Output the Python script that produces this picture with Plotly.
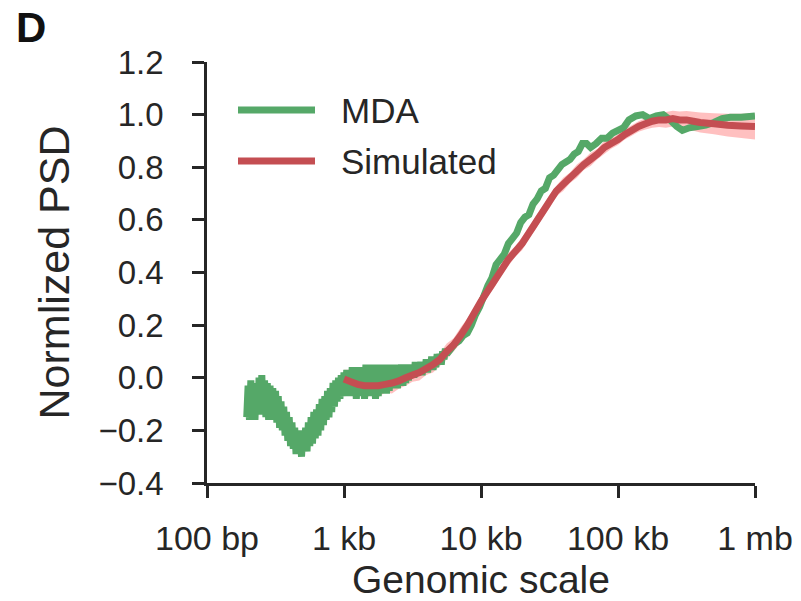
import numpy as np
import plotly.graph_objects as go

# ---------------- data ----------------
# MDA (green): log10 genomic scale (bp) and normalized PSD
mda_log10_bp = [
    2.29, 2.30, 2.31, 2.32, 2.33, 2.34, 2.35, 2.36, 2.37, 2.38, 2.39, 2.40, 2.41, 2.42,
    2.43, 2.44, 2.45, 2.46, 2.47, 2.48, 2.49, 2.50, 2.51, 2.52, 2.53, 2.54, 2.55, 2.56,
    2.57, 2.58, 2.59, 2.60, 2.61, 2.62, 2.63, 2.64, 2.65, 2.66, 2.67, 2.68, 2.69, 2.70,
    2.71, 2.72, 2.73, 2.74, 2.75, 2.76, 2.77, 2.78, 2.79, 2.80, 2.81, 2.82, 2.83, 2.84,
    2.85, 2.86, 2.87, 2.88, 2.89, 2.90, 2.91, 2.92, 2.93, 2.94, 2.95, 2.96, 2.97, 2.98,
    2.99, 3.00, 3.01, 3.02, 3.03, 3.04, 3.05, 3.06, 3.07, 3.08, 3.09, 3.10, 3.11, 3.12,
    3.13, 3.14, 3.15, 3.16, 3.17, 3.18, 3.19, 3.20, 3.21, 3.22, 3.23, 3.24, 3.25, 3.26,
    3.27, 3.28, 3.29, 3.30, 3.31, 3.32, 3.33, 3.34, 3.35, 3.36, 3.37, 3.38, 3.39, 3.40,
    3.41, 3.42, 3.43, 3.44, 3.45, 3.46, 3.47, 3.48, 3.49, 3.50, 3.51, 3.52, 3.53, 3.54,
    3.55, 3.56, 3.57, 3.58, 3.59, 3.60, 3.61, 3.62, 3.63, 3.64, 3.65, 3.66, 3.67, 3.68,
    3.69, 3.70, 3.71, 3.72, 3.73, 3.74, 3.75,
    3.78, 3.81, 3.84, 3.87, 3.90, 3.93, 3.96, 3.99, 4.02, 4.05, 4.08, 4.11, 4.14, 4.17,
    4.20, 4.23, 4.26, 4.29, 4.32, 4.35, 4.38, 4.41, 4.44, 4.47, 4.50, 4.53, 4.56, 4.59,
    4.62, 4.65, 4.68, 4.71, 4.74, 4.77, 4.80, 4.84, 4.88, 4.92, 4.96, 5.00, 5.04, 5.08,
    5.13, 5.18, 5.23, 5.28, 5.33, 5.38, 5.43, 5.47, 5.52, 5.58, 5.64, 5.70, 5.76, 5.82,
    5.90, 6.00,
]
mda_psd = [
    -0.15, -0.03, -0.16, -0.01, -0.15, -0.03, -0.16, -0.02, -0.14, 0.00, -0.13, 0.01, -0.14, -0.01,
    -0.15, -0.02, -0.16, -0.03, -0.15, -0.04, -0.16, -0.05, -0.17, -0.07, -0.19, -0.09, -0.20, -0.11,
    -0.22, -0.13, -0.24, -0.15, -0.26, -0.17, -0.27, -0.19, -0.29, -0.20, -0.29, -0.21, -0.30, -0.20,
    -0.28, -0.19, -0.28, -0.17, -0.26, -0.15, -0.25, -0.13, -0.23, -0.12, -0.22, -0.10, -0.20, -0.08,
    -0.18, -0.07, -0.16, -0.05, -0.15, -0.04, -0.13, -0.02, -0.11, -0.01, -0.09, 0.00, -0.08, 0.01,
    -0.07, 0.02, -0.07, 0.03, -0.06, 0.03, -0.07, 0.04, -0.06, 0.03, -0.08, 0.04, -0.06, 0.04,
    -0.07, 0.03, -0.08, 0.05, -0.06, 0.04, -0.07, 0.05, -0.06, 0.04, -0.08, 0.05, -0.07, 0.04,
    -0.06, 0.05, -0.05, 0.04, -0.06, 0.05, -0.05, 0.04, -0.04, 0.05, -0.04, 0.04, -0.04, 0.05,
    -0.03, 0.05, -0.03, 0.04, -0.02, 0.05, -0.01, 0.05, 0.00, 0.05, 0.00, 0.06, 0.01, 0.05,
    0.01, 0.06, 0.01, 0.06, 0.02, 0.07, 0.02, 0.07, 0.03, 0.08, 0.03, 0.08, 0.04, 0.09,
    0.05, 0.09, 0.05, 0.10, 0.07, 0.11, 0.09,
    0.11, 0.13, 0.14, 0.16, 0.17, 0.20, 0.24, 0.27, 0.31, 0.35, 0.38, 0.43, 0.45, 0.47,
    0.51, 0.53, 0.55, 0.59, 0.61, 0.62, 0.66, 0.68, 0.71, 0.72, 0.76, 0.77, 0.79, 0.81,
    0.82, 0.83, 0.85, 0.86, 0.89, 0.89, 0.875, 0.89, 0.91, 0.91, 0.93, 0.94, 0.95, 0.98,
    0.995, 1.00, 0.985, 0.995, 1.00, 0.98, 0.955, 0.94, 0.95, 0.955, 0.96, 0.97, 0.985, 0.99,
    0.99, 0.995,
]

# Simulated (red): mean and half-width of the shaded band
sim_log10_bp = [
    3.00, 3.05, 3.10, 3.15, 3.20, 3.25, 3.30, 3.35, 3.40, 3.45, 3.50, 3.55, 3.60, 3.65,
    3.70, 3.75, 3.80, 3.85, 3.90, 3.95, 4.00, 4.05, 4.10, 4.15, 4.20, 4.25, 4.30, 4.35,
    4.40, 4.45, 4.50, 4.55, 4.60, 4.65, 4.70, 4.75, 4.80, 4.85, 4.90, 4.95, 5.00, 5.05,
    5.10, 5.15, 5.20, 5.25, 5.30, 5.35, 5.40, 5.45, 5.50, 5.55, 5.60, 5.70, 5.80, 5.90,
    6.00,
]
sim_psd = [
    -0.005, -0.015, -0.025, -0.03, -0.03, -0.03, -0.025, -0.02, -0.012, 0.0, 0.01, 0.02, 0.035, 0.05,
    0.07, 0.10, 0.125, 0.16, 0.20, 0.245, 0.29, 0.33, 0.37, 0.41, 0.45, 0.48, 0.51, 0.55,
    0.59, 0.63, 0.67, 0.71, 0.735, 0.76, 0.785, 0.81, 0.83, 0.85, 0.875, 0.89, 0.905, 0.925,
    0.94, 0.955, 0.965, 0.975, 0.98, 0.98, 0.985, 0.98, 0.98, 0.975, 0.97, 0.965, 0.96, 0.957,
    0.955,
]
sim_halfwidth = [
    0.035, 0.045, 0.03, 0.05, 0.035, 0.045, 0.03, 0.04, 0.03,
    0.03, 0.025, 0.03, 0.025, 0.03, 0.025, 0.03, 0.025, 0.03, 0.025, 0.02, 0.025,
    0.02, 0.025, 0.02, 0.025, 0.02, 0.025, 0.02, 0.025, 0.02, 0.025, 0.02, 0.025, 0.02, 0.025,
    0.02, 0.025, 0.02, 0.025, 0.02,
    0.02, 0.02, 0.02, 0.02, 0.022, 0.025, 0.027, 0.03, 0.03, 0.032, 0.034, 0.036, 0.038,
    0.04, 0.043, 0.046, 0.05,
]

tick_values_bp = [100, 1000, 10000, 100000, 1000000]
tick_labels = ["100 bp", "1 kb", "10 kb", "100 kb", "1 mb"]
y_ticks = [-0.4, -0.2, 0.0, 0.2, 0.4, 0.6, 0.8, 1.0, 1.2]
y_tick_labels = ["\u22120.4", "\u22120.2", "0.0", "0.2", "0.4", "0.6", "0.8", "1.0", "1.2"]

# ---------------- styling ----------------
GREEN = "#55A868"
RED = "#C44E52"
BAND = "rgba(255,150,150,0.6)"
INK = "#262626"
FONT = "Liberation Sans"

mda_x = 10 ** np.array(mda_log10_bp)
sim_x = 10 ** np.array(sim_log10_bp)
sim_y = np.array(sim_psd)
sim_hw = np.array(sim_halfwidth)

fig = go.Figure()
fig.add_trace(go.Scatter(x=sim_x, y=sim_y - sim_hw, mode="lines", line=dict(width=0, simplify=False),
                         hoverinfo="skip", showlegend=False))
fig.add_trace(go.Scatter(x=sim_x, y=sim_y + sim_hw, mode="lines", line=dict(width=0, simplify=False),
                         fill="tonexty", fillcolor=BAND, hoverinfo="skip", showlegend=False))
fig.add_trace(go.Scatter(x=mda_x, y=mda_psd, mode="lines", name="MDA",
                         line=dict(color=GREEN, width=7, simplify=False), showlegend=False))
fig.add_trace(go.Scatter(x=sim_x, y=sim_y, mode="lines", name="Simulated",
                         line=dict(color=RED, width=7, simplify=False), showlegend=False))

# custom legend (long line samples like the original)
W = 548.0
H = 421.0
legend_items = [("MDA", GREEN, 110), ("Simulated", RED, 161)]
for label, color, ypx in legend_items:
    yp = (483 - ypx) / H
    fig.add_shape(type="line", xref="paper", yref="paper",
                  x0=(238 - 207) / W, x1=(315 - 207) / W, y0=yp, y1=yp,
                  line=dict(color=color, width=7))
    fig.add_annotation(text=label, xref="paper", yref="paper",
                       x=(339 - 207) / W, y=yp, xanchor="left", yanchor="middle",
                       showarrow=False, font=dict(family=FONT, size=35, color=INK))

fig.add_annotation(text="<b>D</b>", xref="paper", yref="paper",
                   x=(14 - 207) / W, y=(483 - 28) / H, xanchor="left", yanchor="middle",
                   showarrow=False, font=dict(family=FONT, size=42, color="#111111"))

fig.update_layout(
    width=801, height=601,
    margin=dict(l=207, r=46, t=62, b=118, autoexpand=False),
    paper_bgcolor="white", plot_bgcolor="white",
    font=dict(family=FONT, color=INK, size=33),
    showlegend=False,
)
fig.update_xaxes(
    type="log", range=[2, 6], automargin=False,
    tickvals=tick_values_bp, ticktext=tick_labels,
    showgrid=False, zeroline=False,
    showline=True, linecolor=INK, linewidth=2.5,
    ticks="outside", ticklen=12, tickwidth=2.5, tickcolor=INK,
    tickfont=dict(size=34, color=INK, family=FONT),
    ticklabelstandoff=11,
    title=dict(text="Genomic scale", font=dict(size=39, color=INK, family=FONT), standoff=14),
)
fig.update_yaxes(
    range=[-0.4, 1.2], automargin=False,
    tickvals=y_ticks, ticktext=y_tick_labels,
    showgrid=False, zeroline=False,
    showline=True, linecolor=INK, linewidth=2.5,
    ticks="outside", ticklen=12, tickwidth=2.5, tickcolor=INK,
    tickfont=dict(size=33, color=INK, family=FONT),
    ticklabelstandoff=22,
    title=dict(text="Normlized PSD", font=dict(size=43, color=INK, family=FONT), standoff=16),
)

fig.write_html("out.html")
